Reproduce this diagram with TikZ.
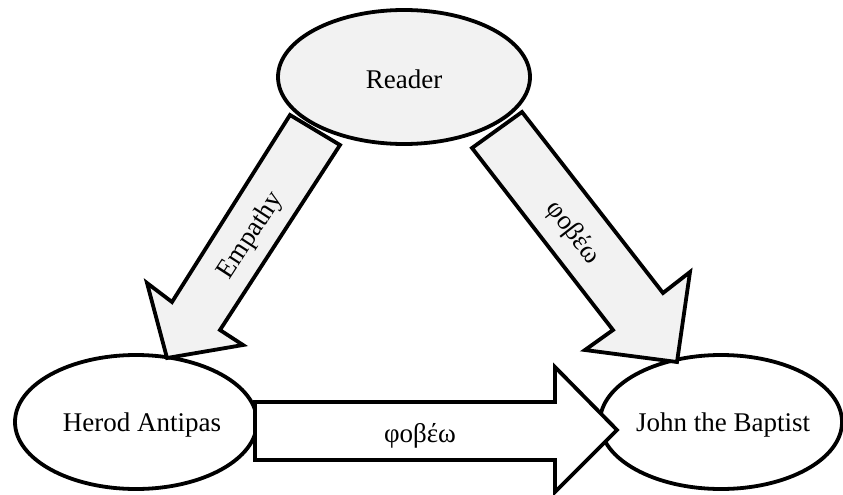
\documentclass[tikz,border=0pt]{standalone}
\usepackage{fontspec}
\setmainfont{Liberation Serif}
\usetikzlibrary{shapes.geometric}
\definecolor{lightfill}{HTML}{F2F2F2}
\tikzset{
  oval/.style={ellipse, draw=black, line width=3.8pt, inner sep=0pt},
  blockarrow/.style={draw=black, line width=3.8pt, line join=miter},
  lbl/.style={font=\fontsize{27}{32}\selectfont, inner sep=0pt}
}
\begin{document}
\begin{tikzpicture}[x=1pt,y=-1pt]
\useasboundingbox (0,0) rectangle (843,495);
% bottom ellipses
\node[oval, fill=white, minimum width=242pt, minimum height=134pt] (herod) at (136,422) {};
\node[oval, fill=white, minimum width=242pt, minimum height=134pt] (john) at (721,422) {};
\node[lbl] (herodtxt) at (142,425) {Herod Antipas};
\node[lbl] (johntxt) at (723,425) {John the Baptist};
% left diagonal arrow (Empathy)
\draw[blockarrow, fill=lightfill] (290,115) -- (340,145) -- (220,330) -- (243,345) -- (167,358) -- (147,283) -- (172,302) -- cycle;
\node[lbl, rotate=57] (empathy) at (251,236) {Empathy};
% right diagonal arrow
\draw[blockarrow, fill=lightfill] (522,112) -- (472,148) -- (613,330) -- (585,350) -- (677,362) -- (690,272) -- (663,293) -- cycle;
\node[lbl, rotate=-52] (phobeo1) at (573,233) {φοβέω};
% horizontal arrow
\draw[blockarrow, fill=white] (255,402) -- (555,402) -- (555,367) -- (617,430) -- (555,492) -- (555,460) -- (255,460) -- cycle;
\node[lbl] (phobeo2) at (420,436) {φοβέω};
% top ellipse
\node[oval, fill=lightfill, minimum width=252pt, minimum height=134pt] (reader) at (404,77) {};
\node[lbl] (readertxt) at (404,79) {Reader};
\end{tikzpicture}
\end{document}
